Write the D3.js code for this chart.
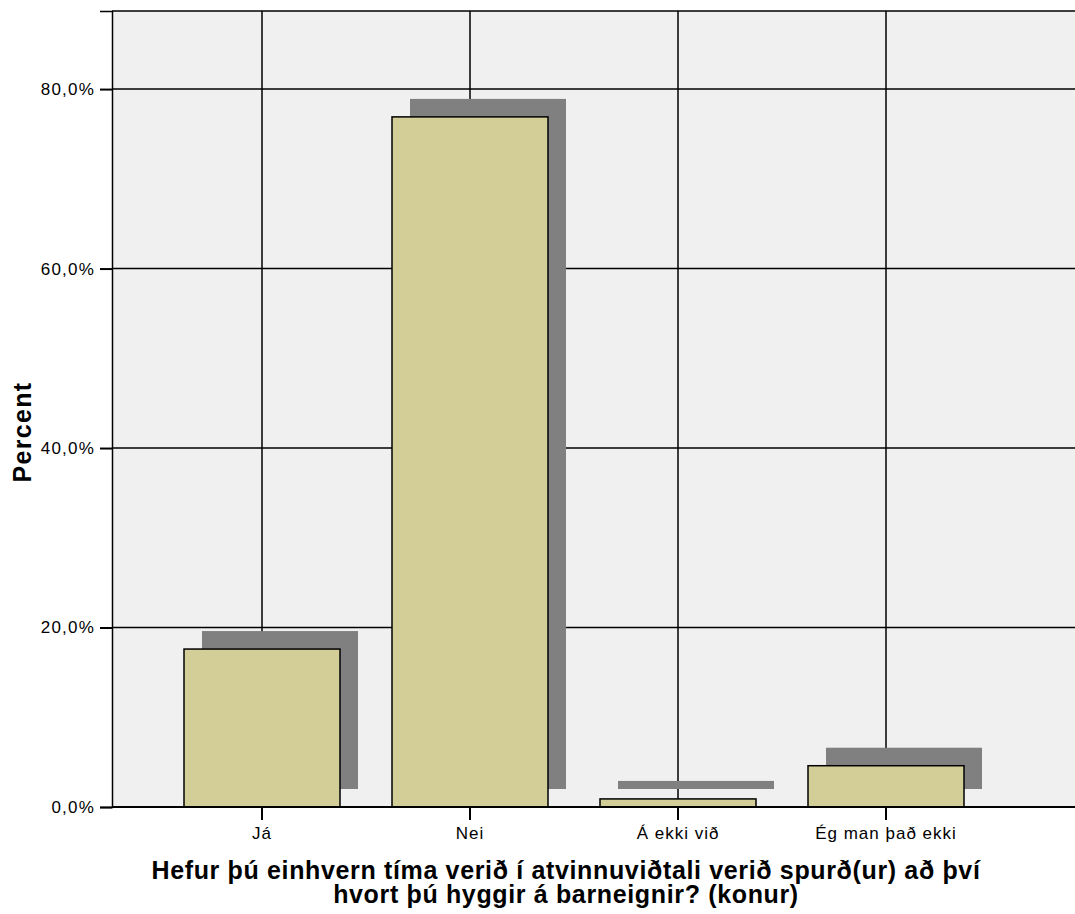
<!DOCTYPE html>
<html>
<head>
<meta charset="utf-8">
<script src="https://cdn.jsdelivr.net/npm/d3@7"></script>
<style>
body { margin: 0; background: #fff; }
text { font-family: Arial, "Liberation Sans", sans-serif; fill: #000; }
</style>
</head>
<body>
<div id="chart"></div>
<script>
let width = 1075;
let height = 914;

// data
let categories = ["Já", "Nei", "Á ekki við", "Ég man það ekki"];
let percents = [17.6, 76.9, 0.9, 4.6];
let yTicks = [0, 20, 40, 60, 80];
let xTitle = ["Hefur þú einhvern tíma verið í atvinnuviðtali verið spurð(ur) að því", "hvort þú hyggir á barneignir? (konur)"];
let yTitle = "Percent";

let plotLeft = 112, plotRight = 1075, plotTop = 11, plotBottom = 807;

let svg = d3.select("#chart").append("svg")
	.attr("width", width).attr("height", height);

let x = d3.scaleBand().domain(categories).range([158, 990])
	.paddingInner(0.25).paddingOuter(0.125);
let y = d3.scaleLinear().domain([0, 88.7]).range([plotBottom, plotTop]);

// background
svg.append("rect").attr("x", plotLeft).attr("y", plotTop)
	.attr("width", plotRight - plotLeft).attr("height", plotBottom - plotTop)
	.attr("fill", "#f0f0f0");

// grid
svg.append("g").selectAll("line").data(yTicks.slice(1))
	.join("line")
	.attr("x1", plotLeft).attr("x2", plotRight)
	.attr("y1", d => y(d)).attr("y2", d => y(d))
	.attr("stroke", "#000").attr("stroke-width", 1.5);
svg.append("g").selectAll("line").data(categories)
	.join("line")
	.attr("x1", d => x(d) + x.bandwidth() / 2).attr("x2", d => x(d) + x.bandwidth() / 2)
	.attr("y1", plotTop).attr("y2", plotBottom)
	.attr("stroke", "#000").attr("stroke-width", 1.5);
// top border
svg.append("line").attr("x1", plotLeft).attr("x2", plotRight).attr("y1", plotTop).attr("y2", plotTop)
	.attr("stroke", "#000").attr("stroke-width", 1.5);

// shadows
let off = 18;
svg.append("g").selectAll("rect").data(categories)
	.join("rect")
	.attr("x", d => x(d) + off)
	.attr("y", (d, i) => y(percents[i]) - off)
	.attr("width", x.bandwidth())
	.attr("height", (d, i) => y(0) - y(percents[i]))
	.attr("fill", "#808080");

// bars
svg.append("g").selectAll("rect").data(categories)
	.join("rect")
	.attr("x", d => x(d))
	.attr("y", (d, i) => y(percents[i]))
	.attr("width", x.bandwidth())
	.attr("height", (d, i) => y(0) - y(percents[i]))
	.attr("fill", "#d3ce97")
	.attr("stroke", "#000").attr("stroke-width", 1.5);

// y axis
let yAxis = svg.append("g").attr("transform", `translate(${plotLeft},0)`)
	.call(d3.axisLeft(y).tickValues(yTicks).tickSize(12).tickPadding(5)
		.tickFormat(d => d3.format(".1f")(d).replace(".", ",") + "%"));
yAxis.attr("font-size", null).attr("font-family", null);
yAxis.select(".domain").attr("stroke", "#000").attr("stroke-width", 1.5);
yAxis.selectAll(".tick line").attr("stroke-width", 2);
yAxis.selectAll("text").style("font-size", "17px").style("letter-spacing", "1.2px");

// x axis
let xAxis = svg.append("g").attr("transform", `translate(0,${plotBottom})`)
	.call(d3.axisBottom(x).tickSize(13).tickPadding(7));
xAxis.attr("font-size", null).attr("font-family", null);
xAxis.select(".domain").attr("d", `M${plotLeft},0H${plotRight}`).attr("stroke", "#000").attr("stroke-width", 2);
xAxis.selectAll(".tick line").attr("stroke-width", 2);
xAxis.selectAll("text").style("font-size", "17px").style("letter-spacing", "1px");

// titles
svg.append("text").attr("transform", "translate(31,432) rotate(-90)")
	.attr("text-anchor", "middle").style("font-size", "25px").style("letter-spacing", "1.3px")
	.attr("font-weight", "bold")
	.text(yTitle);
svg.append("g").selectAll("text").data(xTitle)
	.join("text")
	.attr("x", 566).attr("y", (d, i) => 879 + i * 24)
	.attr("text-anchor", "middle").style("font-size", "25px").style("letter-spacing", "0.65px")
	.attr("font-weight", "bold")
	.text(d => d);
</script>
</body>
</html>
